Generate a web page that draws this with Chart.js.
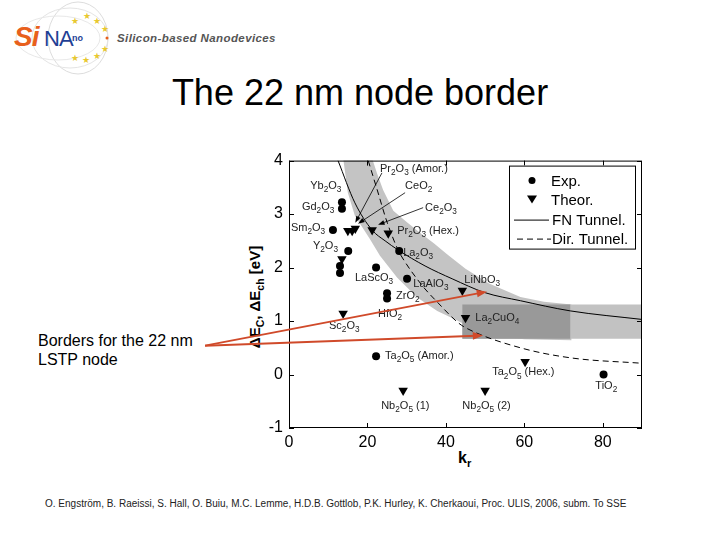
<!DOCTYPE html>
<html>
<head>
<meta charset="utf-8">
<script src="https://cdn.jsdelivr.net/npm/chart.js@4.4.0/dist/chart.umd.min.js"></script>
<style>
  body { margin: 0; width: 720px; height: 540px; background: #fff; position: relative; overflow: hidden;
         font-family: "Liberation Sans", Arial, sans-serif; color: #000; }
  #logo { position: absolute; left: 0; top: 0; }
  #logo-si { position: absolute; left: 14px; top: 21px; font: bold italic 28px "Liberation Sans", Arial, sans-serif; color: #e8601c; letter-spacing: -1px; }
  #logo-na { position: absolute; left: 44px; top: 26px; font: 22px "Liberation Sans", Arial, sans-serif; color: #1f3f95; letter-spacing: -1px; }
  #logo-no { position: absolute; left: 72px; top: 33px; font: bold 9px "Liberation Sans", Arial, sans-serif; color: #1f3f95; }
  #tagline { position: absolute; left: 117px; top: 32px; font: italic bold 11.5px "Liberation Sans", Arial, sans-serif; color: #555; letter-spacing: 0.4px; }
  #title { position: absolute; left: 0; width: 720px; top: 72px; text-align: center; font-size: 36px; }
  #borders { position: absolute; left: 38px; top: 331px; font-size: 16px; line-height: 19px; }
  #ytitle { position: absolute; left: 256px; top: 297px; transform: translate(-50%, -50%) rotate(-90deg);
            white-space: nowrap; font-weight: bold; font-size: 15px; }
  #xtitle { position: absolute; left: 458px; top: 449px; font-weight: bold; font-size: 16px; }
  sub { font-size: 70%; }
  #footer { position: absolute; left: 45px; top: 498px; font-size: 10px; color: #222; white-space: nowrap; }
  #chart { position: absolute; left: 200px; top: 145px; }
</style>
</head>
<body>
<svg id="logo" width="115" height="80">
  <ellipse cx="78" cy="38" rx="30" ry="36" fill="none" stroke="#ddd" stroke-width="1"/>
  <ellipse cx="70" cy="38" rx="38" ry="30" fill="none" stroke="#e4e4e4" stroke-width="1"/>
  <ellipse cx="58" cy="38" rx="42" ry="22" fill="none" stroke="#e8e8e8" stroke-width="1"/>
  <g fill="#e8c830" font-size="9" font-family="DejaVu Sans">
    <text x="71" y="24">★</text><text x="83" y="19">★</text><text x="93" y="24">★</text>
    <text x="101" y="32">★</text><text x="101" y="52">★</text><text x="93" y="59">★</text>
    <text x="82" y="63">★</text><text x="71" y="61">★</text>
  </g>
  <circle cx="107" cy="38" r="1.5" fill="#e8601c"/>
</svg>
<div id="logo-si">Si</div>
<div id="logo-na">NA</div>
<div id="logo-no">no</div>
<div id="tagline">Silicon-based Nanodevices</div>

<div id="title">The 22 nm node border</div>
<div id="borders">Borders for the 22 nm<br>LSTP node</div>
<div id="ytitle">&Delta;E<sub>C</sub>, &Delta;E<sub>ch</sub> [eV]</div>
<div id="xtitle">k<sub>r</sub></div>
<div id="footer">O. Engström, B. Raeissi, S. Hall, O. Buiu, M.C. Lemme, H.D.B. Gottlob, P.K. Hurley, K. Cherkaoui, Proc. ULIS, 2006, subm. To SSE</div>

<canvas id="chart" width="450" height="335"></canvas>

<script>
// axis ticks
const xAxisTicks = [0, 20, 40, 60, 80];
const yAxisTicks = [-1, 0, 1, 2, 3, 4];

// experimental values (filled circles)
const expX = [13.5, 13.5, 11.2, 15.1, 13.0, 13.0, 28.1, 22.2, 30.1, 25.0, 25.0, 22.2, 80.2];
const expY = [3.22, 3.10, 2.70, 2.31, 2.03, 1.90, 2.31, 2.00, 1.79, 1.52, 1.42, 0.34, 0.00];

// theoretical values (triangles)
const theorX = [15.0, 16.1, 16.9, 21.2, 25.3, 13.5, 44.2, 13.8, 45.0, 29.1, 50.0, 60.2];
const theorY = [2.69, 2.69, 2.73, 2.70, 2.64, 2.16, 1.57, 1.14, 1.06, -0.30, -0.30, 0.24];

// FN tunnelling border
const fnX = [12.5, 16.8, 21.2, 24.5, 27.8, 34.7, 41.6, 50.0, 59.0, 71.7, 90.0];
const fnY = [4.00, 3.21, 2.70, 2.50, 2.33, 2.03, 1.79, 1.53, 1.38, 1.19, 1.03];

// direct tunnelling border
const dirX = [20.2, 22.5, 25.0, 27.8, 29.1, 34.0, 38.0, 43.1, 45.4, 59.0, 72.0, 90.0];
const dirY = [4.00, 3.45, 2.85, 2.33, 2.16, 1.66, 1.34, 0.97, 0.86, 0.50, 0.31, 0.21];

// grey band edges
const bandLowX = [13.8, 15.0, 16.8, 20.5, 23.2, 27.6, 32.7, 37.8, 42.9, 49.5, 60.0, 72.0];
const bandLowY = [4.05, 3.40, 2.97, 2.55, 2.22, 1.81, 1.44, 1.19, 1.01, 0.75, 0.66, 0.64];
const bandHighX = [20.7, 22.5, 24.0, 26.6, 30.0, 33.4, 37.0, 40.3, 45.0, 51.0, 59.0, 65.0, 72.0];
const bandHighY = [4.15, 3.75, 3.45, 3.06, 2.85, 2.65, 2.45, 2.25, 1.98, 1.70, 1.45, 1.36, 1.31];

// 22 nm node boxes
const boxY = [0.67, 1.31];
const darkBoxX = [44.2, 71.7];
const lightBoxX = [44.2, 90.0];

// material labels and where they sit (data units: left edge, middle)
const labelNames = ["Pr{2}O{3} (Amor.)", "Yb{2}O{3}", "Gd{2}O{3}", "CeO{2}", "Ce{2}O{3}", "Sm{2}O{3}",
  "Pr{2}O{3} (Hex.)", "Y{2}O{3}", "La{2}O{3}", "LaScO{3}", "LaAlO{3}", "LiNbO{3}", "ZrO{2}", "HfO{2}",
  "Sc{2}O{3}", "La{2}CuO{4}", "Ta{2}O{5} (Amor.)", "Ta{2}O{5} (Hex.)", "TiO{2}", "Nb{2}O{5} (1)", "Nb{2}O{5} (2)"];
const labelAt = [[23.2, 3.84], [5.4, 3.53], [3.3, 3.13], [29.6, 3.53], [34.7, 3.12], [0.5, 2.74],
  [27.6, 2.69], [6.1, 2.41], [29.1, 2.28], [16.8, 1.81], [31.7, 1.70], [44.7, 1.77], [27.3, 1.47], [22.7, 1.14],
  [10.2, 0.91], [47.5, 1.06], [24.5, 0.35], [51.8, 0.04], [78.1, -0.22], [23.5, -0.58], [44.2, -0.58]];

// pointer lines from labels, and the two red border arrows
const pointers = [[[23.7, 3.77], [16.9, 2.84]], [[29.6, 3.40], [17.6, 2.82]], [[34.2, 3.12], [22.7, 2.80]]];
const redArrows = [[[-21.4, 0.54], [50.5, 1.55]], [[-21.4, 0.54], [49.5, 0.73]]];

const FONT = '"Liberation Sans", Arial, sans-serif';
const toXY = (xs, ys) => xs.map((x, i) => ({ x: x, y: ys[i] }));
const boxPoly = (xs, ys) => [{ x: xs[0], y: ys[0] }, { x: xs[1], y: ys[0] }, { x: xs[1], y: ys[1] }, { x: xs[0], y: ys[1] }];

function drawSubText(ctx, str, x, y, size) {
  const parts = str.split(/(\{[^}]*\})/).filter(p => p.length);
  let cx = x;
  ctx.textBaseline = 'middle';
  ctx.textAlign = 'left';
  parts.forEach(p => {
    if (p[0] === '{') {
      ctx.font = (size * 0.75) + 'px ' + FONT;
      const t = p.slice(1, -1);
      ctx.fillText(t, cx, y + size * 0.35);
      cx += ctx.measureText(t).width;
    } else {
      ctx.font = size + 'px ' + FONT;
      ctx.fillText(p, cx, y);
      cx += ctx.measureText(p).width;
    }
  });
}

function arrowLine(ctx, x0, y0, x1, y1, head, width) {
  const a = Math.atan2(y1 - y0, x1 - x0);
  ctx.beginPath();
  ctx.moveTo(x0, y0);
  ctx.lineTo(x1 - Math.cos(a) * head * 0.6, y1 - Math.sin(a) * head * 0.6);
  ctx.stroke();
  ctx.beginPath();
  ctx.moveTo(x1, y1);
  ctx.lineTo(x1 - head * Math.cos(a - 0.35), y1 - head * Math.sin(a - 0.35));
  ctx.lineTo(x1 - head * Math.cos(a + 0.35), y1 - head * Math.sin(a + 0.35));
  ctx.closePath();
  ctx.fill();
}

const framePlugin = {
  id: 'frame',
  afterDatasetsDraw(chart) {
    const { ctx, chartArea: a, scales: { x, y } } = chart;
    ctx.save();
    ctx.strokeStyle = '#000';
    ctx.lineWidth = 1;
    ctx.strokeRect(a.left + 0.5, a.top + 0.5, a.right - a.left - 1, a.bottom - a.top - 1);
    ctx.beginPath();
    xAxisTicks.forEach(v => {
      const px = Math.round(x.getPixelForValue(v)) + 0.5;
      ctx.moveTo(px, a.bottom); ctx.lineTo(px, a.bottom - 5);
      ctx.moveTo(px, a.top); ctx.lineTo(px, a.top + 5);
    });
    yAxisTicks.forEach(v => {
      const py = Math.round(y.getPixelForValue(v)) + 0.5;
      ctx.moveTo(a.left, py); ctx.lineTo(a.left + 5, py);
      ctx.moveTo(a.right, py); ctx.lineTo(a.right - 5, py);
    });
    ctx.stroke();
    ctx.restore();
  },
  afterDraw(chart) {
    const { ctx, chartArea: a, scales: { x, y } } = chart;
    ctx.save();
    // labels
    ctx.fillStyle = '#222';
    labelNames.forEach((name, i) => {
      drawSubText(ctx, name, x.getPixelForValue(labelAt[i][0]), y.getPixelForValue(labelAt[i][1]), 11);
    });
    // pointer lines
    ctx.strokeStyle = '#000';
    ctx.fillStyle = '#000';
    ctx.lineWidth = 0.8;
    pointers.forEach(p => arrowLine(ctx, x.getPixelForValue(p[0][0]), y.getPixelForValue(p[0][1]),
      x.getPixelForValue(p[1][0]), y.getPixelForValue(p[1][1]), 7, 0.8));

    // legend box
    const lx = a.right - 133, ly = a.top + 5;
    ctx.fillStyle = '#fff';
    ctx.fillRect(lx, ly, 126, 83);
    ctx.strokeStyle = '#000';
    ctx.lineWidth = 1;
    ctx.strokeRect(lx + 0.5, ly + 0.5, 126, 83);
    const rows = [15, 34, 54, 73];
    const names = ['Exp.', 'Theor.', 'FN Tunnel.', 'Dir. Tunnel.'];
    ctx.fillStyle = '#000';
    ctx.beginPath(); ctx.arc(lx + 23, ly + rows[0], 3.5, 0, Math.PI * 2); ctx.fill();
    ctx.beginPath();
    ctx.moveTo(lx + 18, ly + rows[1] - 4); ctx.lineTo(lx + 28, ly + rows[1] - 4); ctx.lineTo(lx + 23, ly + rows[1] + 4);
    ctx.closePath(); ctx.fill();
    ctx.beginPath(); ctx.moveTo(lx + 5, ly + rows[2] + 0.5); ctx.lineTo(lx + 40, ly + rows[2] + 0.5); ctx.stroke();
    ctx.setLineDash([6, 4]);
    ctx.beginPath(); ctx.moveTo(lx + 8, ly + rows[3] + 0.5); ctx.lineTo(lx + 42, ly + rows[3] + 0.5); ctx.stroke();
    ctx.setLineDash([]);
    ctx.font = '15px ' + FONT;
    ctx.textBaseline = 'middle';
    names.forEach((n, i) => ctx.fillText(n, lx + (i < 2 ? 42 : 43), ly + rows[i] + 1));

    // red border arrows
    ctx.strokeStyle = '#d04a2a';
    ctx.fillStyle = '#d04a2a';
    ctx.lineWidth = 2;
    redArrows.forEach(p => arrowLine(ctx, x.getPixelForValue(p[0][0]), y.getPixelForValue(p[0][1]),
      x.getPixelForValue(p[1][0]), y.getPixelForValue(p[1][1]), 11, 2));
    ctx.restore();
  }
};

new Chart(document.getElementById('chart'), {
  type: 'scatter',
  data: {
    datasets: [
      { label: 'Exp.', data: toXY(expX, expY), pointStyle: 'circle', pointRadius: 4,
        backgroundColor: '#000', borderColor: '#000', borderWidth: 0, order: 0 },
      { label: 'Theor.', data: toXY(theorX, theorY), pointStyle: 'triangle', rotation: 180, pointRadius: 5.5,
        backgroundColor: '#000', borderColor: '#000', borderWidth: 0, order: 0 },
      { type: 'line', label: 'FN Tunnel.', data: toXY(fnX, fnY), borderColor: '#000', borderWidth: 1,
        pointRadius: 0, tension: 0.4, cubicInterpolationMode: 'monotone', fill: false, order: 1 },
      { type: 'line', label: 'Dir. Tunnel.', data: toXY(dirX, dirY), borderColor: '#000', borderWidth: 1,
        borderDash: [6, 4], pointRadius: 0, cubicInterpolationMode: 'monotone', fill: false, order: 1 },
      { type: 'line', label: 'node', data: boxPoly(darkBoxX, boxY), fill: 'shape', backgroundColor: '#999999',
        borderColor: 'rgba(0,0,0,0)', pointRadius: 0, tension: 0, order: 2 },
      { type: 'line', label: 'node2', data: boxPoly(lightBoxX, boxY), fill: 'shape', backgroundColor: '#c2c2c2',
        borderColor: 'rgba(0,0,0,0)', pointRadius: 0, tension: 0, order: 3 },
      { type: 'line', label: 'band', data: toXY(bandLowX, bandLowY).concat(toXY(bandHighX, bandHighY).reverse()),
        fill: 'shape', backgroundColor: '#c4c4c4', borderColor: 'rgba(0,0,0,0)', pointRadius: 0, tension: 0,
        clip: false, order: 4 }
    ]
  },
  options: {
    responsive: false,
    animation: false,
    layout: { padding: { top: 15, right: 8, left: 0, bottom: 0 } },
    plugins: { legend: { display: false }, tooltip: { enabled: false } },
    scales: {
      x: {
        type: 'linear', min: 0, max: 90,
        afterBuildTicks: s => { s.ticks = xAxisTicks.map(v => ({ value: v })); },
        afterFit: s => { s.height = 52; },
        grid: { display: false, drawTicks: false }, border: { display: false },
        ticks: { color: '#000', padding: 5, font: { family: FONT, size: 16 } }
      },
      y: {
        type: 'linear', min: -1, max: 4,
        afterBuildTicks: s => { s.ticks = yAxisTicks.map(v => ({ value: v })); },
        afterFit: s => { s.width = 89; },
        grid: { display: false, drawTicks: false }, border: { display: false },
        ticks: { color: '#000', padding: 6, font: { family: FONT, size: 16 } }
      }
    }
  },
  plugins: [framePlugin]
});
</script>
</body>
</html>
